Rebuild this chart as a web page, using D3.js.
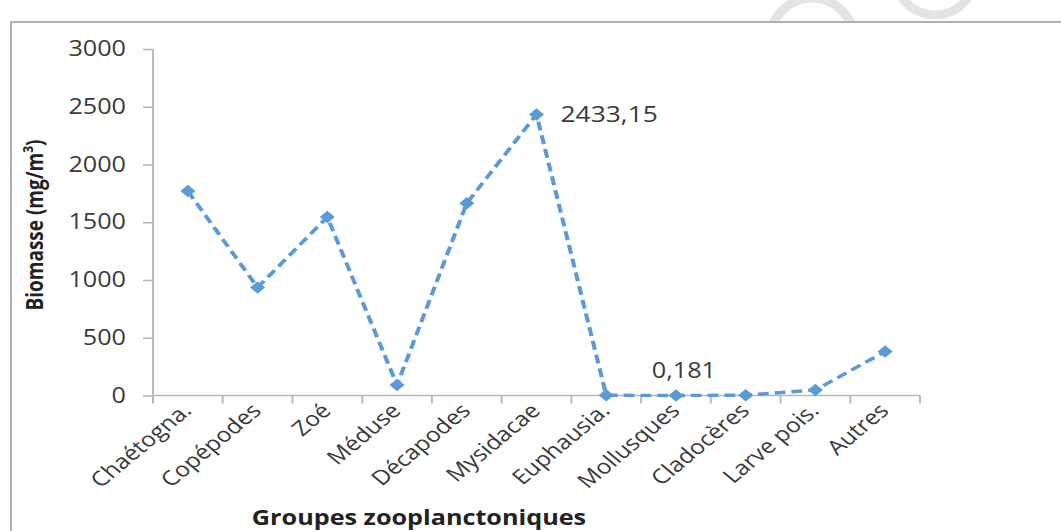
<!DOCTYPE html>
<html>
<head>
<meta charset="utf-8">
<script src="https://cdn.jsdelivr.net/npm/d3@7"></script>
<style>
  html, body { margin: 0; padding: 0; background: #fff; }
  svg { display: block; }
  text { font-family: "Open Sans", "Noto Sans", sans-serif; }
</style>
</head>
<body>
<svg id="chart" width="1061" height="531"></svg>
<script>
// Biomasse par groupe zooplanctonique
const categories = ["Chaétogna.", "Copépodes", "Zoé", "Méduse", "Décapodes", "Mysidacae",
                    "Euphausia.", "Mollusques", "Cladocères", "Larve pois.", "Autres"];
const biomass = [1770, 935, 1545, 90, 1665, 2433.15, 2, 0.181, 3, 48, 380];
const yTicks = [0, 500, 1000, 1500, 2000, 2500, 3000];
const labelled = [
  { cat: "Mysidacae", text: "2433,15" },
  { cat: "Mollusques", text: "0,181" }
];

const W = 1061, H = 531;
const SX = 1.2;                 // horizontal stretch of the whole figure
const px = v => v / SX;         // convert output pixels to drawing units

const svg = d3.select("#chart");
svg.append("rect").attr("width", W).attr("height", H).attr("fill", "#fff");

// faint decorative rings above the frame
svg.append("clipPath").attr("id", "topband").append("rect")
  .attr("x", 0).attr("y", 0).attr("width", W).attr("height", 21);
const deco = svg.append("g").attr("fill", "none").attr("stroke", "#e4e4e4")
  .attr("stroke-width", 9).attr("clip-path", "url(#topband)");
deco.append("circle").attr("cx", 812).attr("cy", 40).attr("r", 42);
deco.append("circle").attr("cx", 935).attr("cy", -25).attr("r", 40);

// frame
svg.append("path")
  .attr("d", `M11,${H} L11,22 L${W},22`)
  .attr("fill", "none").attr("stroke", "#b0b0b0").attr("stroke-width", 2);

const g = svg.append("g").attr("transform", `scale(${SX},1)`);

const x = d3.scaleBand().domain(categories).range([px(153), px(920)]).paddingInner(0).paddingOuter(0);
const y = d3.scaleLinear().domain([0, 3000]).range([395.5, 49]);
const cx = c => x(c) + x.bandwidth() / 2;

const axisColor = "#b8b8b8";
const textColor = "#3a3a3a";

// y axis
const yAxis = g.append("g").attr("transform", `translate(${px(153)},0)`)
  .call(d3.axisLeft(y).tickValues(yTicks).tickSize(px(10)).tickPadding(px(17)).tickFormat(d3.format("d")));
yAxis.select(".domain").remove();
yAxis.append("line").attr("x1", 0).attr("x2", 0).attr("y1", y(3000)).attr("y2", 403)
  .attr("stroke", axisColor).attr("stroke-width", 1.6);
yAxis.selectAll(".tick line").attr("stroke", axisColor).attr("stroke-width", 1.6);
yAxis.selectAll(".tick text").attr("fill", textColor).attr("font-size", 21)
  .attr("font-family", "'Open Sans', sans-serif");

// x axis
const xAxis = g.append("g").attr("transform", `translate(0,${y(0)})`);
xAxis.append("line").attr("x1", px(153)).attr("x2", px(920)).attr("y1", 0).attr("y2", 0)
  .attr("stroke", axisColor).attr("stroke-width", 1.6);
const bounds = categories.map(c => x(c)).concat([x.range()[1]]);
xAxis.selectAll("line.tick").data(bounds).join("line").attr("class", "tick")
  .attr("x1", d => d).attr("x2", d => d).attr("y1", 0).attr("y2", 8)
  .attr("stroke", axisColor).attr("stroke-width", 1.6);

// rotated category labels
g.append("g").selectAll("text").data(categories).join("text")
  .attr("transform", d => `translate(${cx(d) + px(5)},${412}) rotate(-45)`)
  .attr("text-anchor", "end")
  .attr("fill", textColor)
  .attr("font-size", 20.5)
  .text(d => d);

// axis titles
g.append("text")
  .attr("transform", `translate(${px(43)},${225}) rotate(-90)`)
  .attr("text-anchor", "middle")
  .attr("font-size", 19).attr("font-weight", 700).attr("fill", "#222")
  .text("Biomasse (mg/m")
  .append("tspan").attr("baseline-shift", "super").attr("font-size", 12).text("3")
  .select(function () { return this.parentNode; })
  .append("tspan").text(")");

g.append("text")
  .attr("x", px(419)).attr("y", 525)
  .attr("text-anchor", "middle")
  .attr("font-size", 21).attr("font-weight", 700).attr("fill", "#222")
  .text("Groupes zooplanctoniques");

// series line
const lineColor = "#5b9bd5";
const line = d3.line().x((d, i) => cx(categories[i])).y(d => y(d));
g.append("path").datum(biomass)
  .attr("d", line)
  .attr("fill", "none")
  .attr("stroke", lineColor)
  .attr("stroke-width", 3.4)
  .attr("stroke-dasharray", "9,5");

// diamond markers
g.append("g").selectAll("path").data(biomass).join("path")
  .attr("transform", (d, i) => `translate(${cx(categories[i])},${y(d)})`)
  .attr("d", d3.symbol().type(d3.symbolDiamond2).size(100))
  .attr("fill", lineColor);

// value labels
const valueOf = c => biomass[categories.indexOf(c)];
g.append("text")
  .attr("x", cx("Mysidacae") + px(24)).attr("y", y(valueOf("Mysidacae")))
  .attr("dy", "0.35em")
  .attr("font-size", 22).attr("fill", textColor)
  .text(labelled[0].text);
g.append("text")
  .attr("x", cx("Mollusques") + px(8)).attr("y", 378)
  .attr("text-anchor", "middle")
  .attr("font-size", 21).attr("fill", textColor)
  .text(labelled[1].text);
</script>
</body>
</html>
